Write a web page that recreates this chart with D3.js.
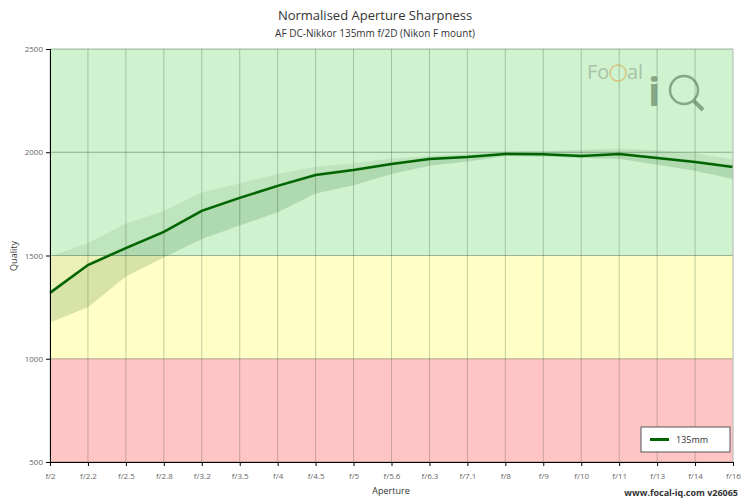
<!DOCTYPE html>
<html><head><meta charset="utf-8">
<script src="https://cdn.jsdelivr.net/npm/d3@7"></script>
<style>body{margin:0;font-family:"Open Sans",sans-serif}text{font-family:"Open Sans",sans-serif}</style>
</head><body><div id="chart"></div>
<script>
var apertures = ["f/2","f/2.2","f/2.5","f/2.8","f/3.2","f/3.5","f/4","f/4.5","f/5","f/5.6","f/6.3","f/7.1","f/8","f/9","f/10","f/11","f/13","f/14","f/16"];
var sharpness = [1319,1454,1536,1614,1716,1779,1837,1890,1914,1943,1967,1977,1992,1990,1982,1992,1972,1953,1929];
var rangeHi   = [1495,1560,1655,1715,1805,1850,1895,1930,1947,1970,1982,1992,2003,2005,2012,2018,2010,1995,1965];
var rangeLo   = [1175,1250,1398,1490,1580,1645,1710,1800,1840,1895,1935,1955,1982,1980,1972,1968,1940,1910,1870];
var innerHi   = [1330,1465,1546,1624,1726,1789,1847,1900,1924,1953,1977,1987,2000,1998,1992,2000,1982,1963,1939];
var yTicks = [500,1000,1500,2000,2500];
var bands = [{from:500,to:1000,color:"#ffc4c4"},{from:1000,to:1500,color:"#ffffc6"},{from:1500,to:2500,color:"#cff2cf"}];

var W=750,H=500,L=50,R=733,T=49,B=462;
var svg=d3.select("#chart").append("svg").attr("width",W).attr("height",H);
var x=d3.scalePoint().domain(apertures).range([L,R]);
var y=d3.scaleLinear().domain([500,2500]).range([B,T]);

svg.selectAll("rect.band").data(bands).enter().append("rect")
 .attr("x",L).attr("width",R-L).attr("y",d=>y(d.to)).attr("height",d=>y(d.from)-y(d.to)).attr("fill",d=>d.color);

svg.append("g").selectAll("line").data(apertures).enter().append("line")
 .attr("x1",d=>x(d)).attr("x2",d=>x(d)).attr("y1",T).attr("y2",B).attr("stroke","rgba(60,90,60,0.3)");
svg.append("g").selectAll("line").data(yTicks).enter().append("line")
 .attr("x1",L).attr("x2",R).attr("y1",d=>y(d)).attr("y2",d=>y(d)).attr("stroke","rgba(40,70,40,0.4)");

// watermark
var wm=svg.append("g").attr("opacity",0.55);
wm.append("text").attr("x",587).attr("y",79).attr("font-size",20).attr("fill","#8a9a8a").text("Fo");
wm.append("circle").attr("cx",618).attr("cy",73).attr("r",8).attr("fill","none").attr("stroke","#e0a040").attr("stroke-width",1.5);
wm.append("text").attr("x",627).attr("y",79).attr("font-size",20).attr("fill","#8a9a8a").text("al");
wm.append("text").attr("x",648).attr("y",106).attr("font-size",40).attr("font-weight","bold").attr("fill","#4a6a4a").text("i");
wm.append("circle").attr("cx",684).attr("cy",90).attr("r",14).attr("fill","none").attr("stroke","#4a6a4a").attr("stroke-width",2.5);
wm.append("line").attr("x1",694).attr("y1",101).attr("x2",703).attr("y2",110).attr("stroke","#4a6a4a").attr("stroke-width",4);

var area=(lo,hi)=>d3.area().x((d,i)=>x(apertures[i])).y0((d,i)=>y(lo[i])).y1((d,i)=>y(hi[i]));
svg.append("path").datum(apertures).attr("d",area(rangeLo,rangeHi)).attr("fill","rgba(0,80,0,0.08)");
svg.append("path").datum(apertures).attr("d",area(rangeLo,innerHi)).attr("fill","rgba(0,80,0,0.08)");
svg.append("path").datum(sharpness).attr("d",d3.line().x((d,i)=>x(apertures[i])).y(d=>y(d)))
 .attr("fill","none").attr("stroke","#006400").attr("stroke-width",2.5);

svg.append("line").attr("x1",R).attr("x2",R).attr("y1",T).attr("y2",B).attr("stroke","#ccc");
var ya=svg.append("g").attr("transform","translate("+L+",0)").call(d3.axisLeft(y).tickValues(yTicks).tickSize(4).tickFormat(d3.format("d")));
var xa=svg.append("g").attr("transform","translate(0,"+B+")").call(d3.axisBottom(x).tickSize(4));
[ya,xa].forEach(a=>{a.selectAll("text").attr("font-size",8).attr("fill","#666");a.select(".domain").attr("stroke","#000");});
xa.selectAll("text").attr("dy","1.2em");

svg.append("text").attr("x",375).attr("y",20).attr("text-anchor","middle").attr("font-size",13).attr("fill","#333").text("Normalised Aperture Sharpness");
svg.append("text").attr("x",375).attr("y",37).attr("text-anchor","middle").attr("font-size",10).attr("fill","#333").text("AF DC-Nikkor 135mm f/2D (Nikon F mount)");
svg.append("text").attr("transform","translate(17,256) rotate(-90)").attr("text-anchor","middle").attr("font-size",9).attr("fill","#333").text("Quality");
svg.append("text").attr("x",391).attr("y",494).attr("text-anchor","middle").attr("font-size",9).attr("fill","#333").text("Aperture");
svg.append("text").attr("x",738).attr("y",496).attr("text-anchor","end").attr("font-size",9).attr("font-weight","bold").attr("fill","#333").text("www.focal-iq.com  v26065");

var lg=svg.append("g");
lg.append("rect").attr("x",641).attr("y",427).attr("width",89).attr("height",25).attr("fill","#fff").attr("stroke","#555");
lg.append("line").attr("x1",650).attr("x2",669).attr("y1",439.5).attr("y2",439.5).attr("stroke","#006400").attr("stroke-width",3);
lg.append("text").attr("x",676).attr("y",443).attr("font-size",9).attr("fill","#333").text("135mm");
</script></body></html>
